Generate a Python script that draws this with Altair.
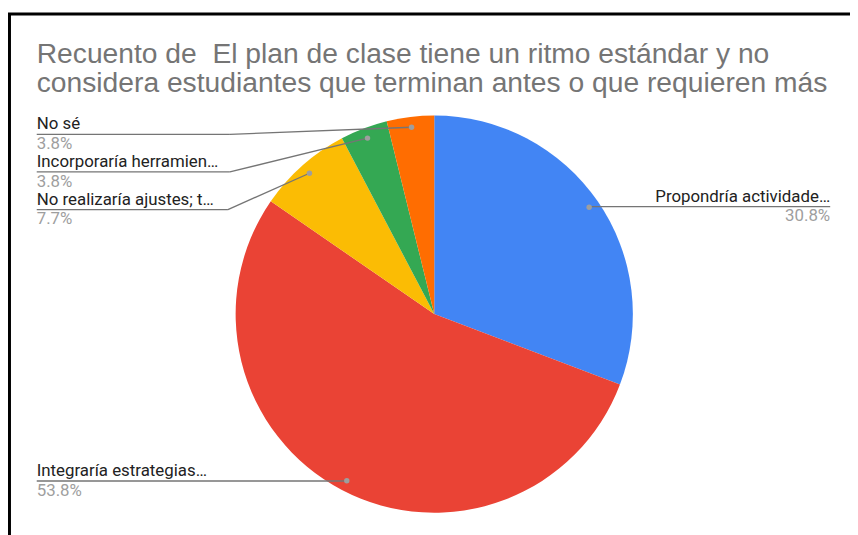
import altair as alt
import pandas as pd

# ---- data ----
categories = ["Propondría actividade…", "Integraría estrategias…", "No realizaría ajustes; t…",
              "Incorporaría herramien…", "No sé"]
counts = [8, 14, 2, 1, 1]
percents = ["30.8%", "53.8%", "7.7%", "3.8%", "3.8%"]
colors = ["#4285F4", "#EA4335", "#FBBC04", "#34A853", "#FF6D01"]
title_lines = ["Recuento de \u00a0El plan de clase tiene un ritmo estándar y no",
               "considera estudiantes que terminan antes o que requieren más"]

# ---- layout (view pixel coordinates) ----
CX, CY, R = 430.3, 306.5, 200.5
DOT_R = 190
label_side = ["right", "left", "left", "left", "left"]
line_y = [198, 475, 201, 163, 125]
line_x0 = [830, 29, 29, 29, 29]
elbow_x = [587, 342, 222, 224, 224]

df = pd.DataFrame({
    "cat": categories, "count": counts, "pct": percents, "idx": list(range(len(categories))),
    "side": label_side, "ly": line_y, "lx0": line_x0, "ex": elbow_x,
})

W, H = 850, 527

base = alt.Chart(df).transform_window(
    cum="sum(count)", sort=[alt.SortField("idx")], frame=[None, 0]
).transform_joinaggregate(total="sum(count)").transform_calculate(
    mid="2*PI*(datum.cum - datum.count/2)/datum.total",
    dx=f"{CX} + {DOT_R}*sin(datum.mid)",
    dy=f"{CY} - {DOT_R}*cos(datum.mid)",
)

pie = alt.Chart(df).mark_arc(radius=R, stroke=None).encode(
    theta=alt.Theta("count:Q", stack=True),
    order=alt.Order("idx:Q"),
    color=alt.Color("cat:N", scale=alt.Scale(domain=categories, range=colors), legend=None),
    x=alt.value(CX), y=alt.value(CY),
)

under = base.mark_rule(color="#757575", strokeWidth=1.3).encode(
    x=alt.X("lx0:Q", scale=None, axis=None), x2="ex:Q",
    y=alt.Y("ly:Q", scale=None, axis=None),
)
diag = base.mark_rule(color="#757575", strokeWidth=1.3).encode(
    x=alt.X("ex:Q", scale=None, axis=None), x2="dx:Q",
    y=alt.Y("ly:Q", scale=None, axis=None), y2="dy:Q",
)
dots = base.mark_circle(color="#9e9e9e", opacity=1, size=30).encode(
    x=alt.X("dx:Q", scale=None, axis=None), y=alt.Y("dy:Q", scale=None, axis=None),
)

def labels(side, align):
    b = base.transform_filter(alt.datum.side == side)
    name = b.mark_text(align=align, baseline="alphabetic", font="Roboto", fontSize=17,
                       color="#222222", dy=-5).encode(
        x=alt.X("lx0:Q", scale=None, axis=None), y=alt.Y("ly:Q", scale=None, axis=None),
        text="cat:N")
    pct = b.mark_text(align=align, baseline="alphabetic", font="Roboto", fontSize=17,
                      color="#9e9e9e", dy=15).encode(
        x=alt.X("lx0:Q", scale=None, axis=None), y=alt.Y("ly:Q", scale=None, axis=None),
        text="pct:N")
    return name + pct

tdf = pd.DataFrame({"t": title_lines, "i": [0, 1]})
title = alt.Chart(tdf).mark_text(align="left", baseline="alphabetic", font="Liberation Sans",
                                 fontSize=28.5, color="#757575").encode(
    x=alt.value(29), y=alt.Y("i:Q", scale=alt.Scale(domain=[0, 1], range=[53, 82]), axis=None),
    text="t:N",
)

frame = alt.Chart(pd.DataFrame({"a": [0]})).mark_rect(
    fill=None, stroke="black", strokeWidth=3).encode(
    x=alt.value(1.5), x2=alt.value(900), y=alt.value(3.5), y2=alt.value(600),
)

chart = alt.layer(
    pie, under, diag, dots, labels("left", "left"), labels("right", "right"), title, frame
).properties(width=W, height=H, autosize=alt.AutoSizeParams(type="none"), padding=0
).configure_view(stroke=None)

chart.save("out.html", embed_options={"renderer": "svg", "actions": False})
